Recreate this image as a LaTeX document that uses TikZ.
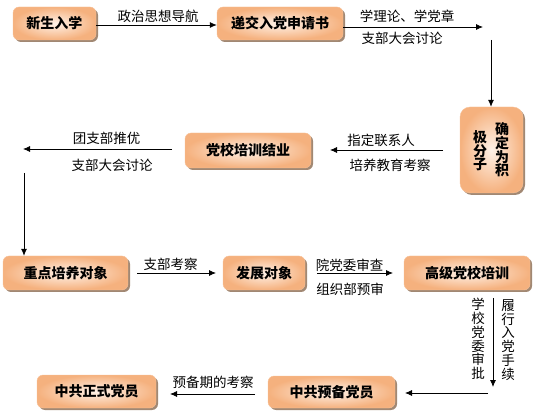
\documentclass[tikz,border=0pt]{standalone}
\usepackage{fontspec}
\setmainfont{Noto Sans CJK SC}
\usetikzlibrary{arrows.meta,shadows}
\definecolor{boxout}{HTML}{F5B17E}
\definecolor{boxin}{HTML}{FFF2E8}
\definecolor{shade}{HTML}{8A6A50}
\tikzset{
  stagebox/.style={rounded corners=6pt, inner color=boxin, outer color=boxout,
    draw=boxout!80!white, line width=0.4pt,
    drop shadow={shadow xshift=2pt, shadow yshift=-2pt, fill=shade, opacity=0.8},
    font=\fontsize{14}{16}\selectfont\bfseries, inner sep=0pt, anchor=center},
  lbl/.style={font=\fontsize{13.5}{14}\selectfont, inner sep=0pt, anchor=center},
  vlbl/.style={font=\fontsize{13.5}{13.7}\selectfont, inner sep=0pt, anchor=center, align=center},
  conn/.style={line width=0.8pt, -{Latex[length=7pt,width=6pt]}},
  plain/.style={line width=0.8pt}
}
\begin{document}
\begin{tikzpicture}[x=1pt,y=-1pt]
\useasboundingbox (0,0) rectangle (536,414);
% boxes
\node[stagebox, minimum width=83pt, minimum height=33pt] (b1) at (54.5,23.5) {新生入学};
\node[stagebox, minimum width=126pt, minimum height=33pt] (b2) at (280,23.5) {递交入党申请书};
\node[stagebox, rounded corners=10pt, minimum width=63pt, minimum height=86pt] (b3) at (491.5,150) {};
\node[font=\fontsize{14}{13.6}\selectfont\bfseries, inner sep=0pt, align=center] (b3a) at (502,150) {确\\定\\为\\积};
\node[font=\fontsize{14}{13.6}\selectfont\bfseries, inner sep=0pt, align=center] (b3b) at (480,151) {极\\分\\子};
\node[stagebox, minimum width=126pt, minimum height=35pt] (b4) at (248,150.5) {党校培训结业};
\node[stagebox, minimum width=125pt, minimum height=34pt] (b5) at (65.5,273) {重点培养对象};
\node[stagebox, minimum width=82pt, minimum height=34pt] (b6) at (264,273) {发展对象};
\node[stagebox, minimum width=126pt, minimum height=34pt] (b7) at (467,273) {高级党校培训};
\node[stagebox, minimum width=127pt, minimum height=32pt] (b8) at (331.5,392) {中共预备党员};
\node[stagebox, minimum width=119pt, minimum height=33pt] (b9) at (96.5,391.5) {中共正式党员};
% coordinates
\coordinate (c2a) at (483,27);
\coordinate (c2b) at (491,40);
\coordinate (c3a) at (443,150);
\coordinate (c3b) at (330,150);
\coordinate (c4a) at (172,149);
\coordinate (c4b) at (23,149);
\coordinate (c4c) at (24,173);
\coordinate (c5a) at (137,273);
\coordinate (c5b) at (216,273);
\coordinate (c6a) at (317,273);
\coordinate (c6b) at (393,273);
\coordinate (c7a) at (493,298);
\coordinate (c7b) at (493,387);
\coordinate (c8a) at (488,393);
\coordinate (c8b) at (405,393);
\coordinate (c9a) at (255,394);
\coordinate (c9b) at (170,394);
% connectors
\draw[conn] (b1.east |- 0,25) -- (b2.west |- 0,25);
\draw[conn] (b2.east |- c2a) -- (c2a);
\draw[conn] (c2b) -- (c2b |- b3.north);
\draw[conn] (c3a) -- (c3b);
\draw[conn] (c4a) -- (c4b);
\draw[conn] (c4c) -- (c4c |- b5.north);
\draw[conn] (c5a) -- (c5b);
\draw[conn] (c6a) -- (c6b);
\draw[conn] (c7a) -- (c7b);
\draw[conn] (c8a) -- (c8b);
\draw[conn] (c9a) -- (c9b);
% labels
\node[lbl] (l1) at (158,16) {政治思想导航};
\node[lbl] (l2) at (407,16) {学理论、学党章};
\node[lbl] (l3) at (402,38.5) {支部大会讨论};
\node[lbl] (l4) at (381,140) {指定联系人};
\node[lbl] (l5) at (390,165) {培养教育考察};
\node[lbl] (l6) at (106.5,138.5) {团支部推优};
\node[lbl] (l7) at (112,165) {支部大会讨论};
\node[lbl] (l8) at (170.5,264.5) {支部考察};
\node[lbl] (l9) at (349.5,265) {院党委审查};
\node[lbl] (l10) at (350,289) {组织部预审};
\node[lbl] (l11) at (213,382.5) {预备期的考察};
\node[vlbl] (l12) at (478,339) {学\\校\\党\\委\\审\\批};
\node[vlbl] (l13) at (508,340) {履\\行\\入\\党\\手\\续};
\end{tikzpicture}
\end{document}
